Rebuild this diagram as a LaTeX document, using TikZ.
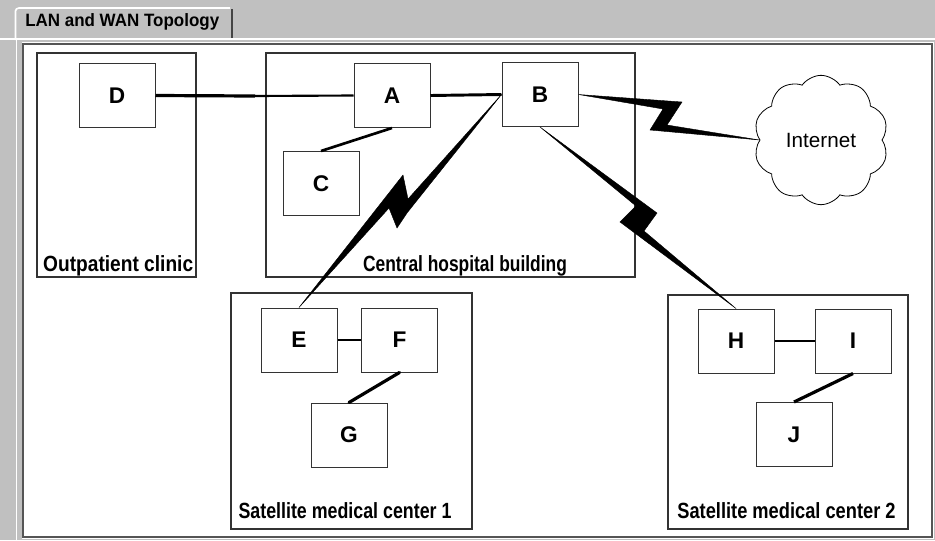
\documentclass[tikz,border=0pt]{standalone}
\usepackage{fontspec}
\setmainfont{Liberation Sans}
\usetikzlibrary{shapes.symbols}
\definecolor{bg}{HTML}{C0C0C0}
\definecolor{edge}{HTML}{333333}
\definecolor{frame}{HTML}{555555}
\begin{document}
\begin{tikzpicture}[x=0.75pt,y=-0.75pt,
  dev/.style={draw=edge, line width=0.75pt, fill=white, minimum width=57pt, minimum height=48pt, inner sep=0pt, font=\fontsize{17}{19}\selectfont\bfseries},
  grp/.style={draw=edge, line width=0.9pt, inner sep=0pt},
  grplabel/.style={anchor=base, inner sep=0pt, xscale=#1, font=\fontsize{16.5}{19}\selectfont\bfseries},
  wire/.style={draw=black, line width=#1},
  bolt/.style={fill=black, draw=black, line width=0.3pt, line join=miter}
]
\useasboundingbox (0,0) rectangle (935,540);
\fill[bg] (0,0) rectangle (935,540);
% tab
\draw[white, line width=1.5pt] (0,38.5) -- (935,38.5);
\draw[white, line width=1.2pt] (15.5,40) -- (15.5,11) to[out=90,in=180] (19,8) -- (230,8);
\draw[frame!80!black, line width=1.5pt] (231.5,9) -- (231.5,38);
\node[anchor=west, inner sep=0pt, xscale=0.95, font=\fontsize{13.4}{15}\selectfont\bfseries] (tab) at (25,22) {LAN and WAN Topology};
% panel
\draw[white, line width=1.2pt] (16.5,40) -- (16.5,540);
\fill[white] (22,42) rectangle (934,539);
\draw[frame, line width=1.5pt] (23,44) -- (932,44) -- (932,537) -- (23,537) -- cycle;

% groups
\node[grp, minimum width=119.25pt, minimum height=168pt] (clinic) at (116.5,165) {};
\node[grp, minimum width=276.75pt, minimum height=168pt] (central) at (450.5,165) {};
\node[grp, minimum width=180.75pt, minimum height=177pt] (sat1) at (351.5,411) {};
\node[grp, minimum width=180pt, minimum height=175.5pt] (sat2) at (788,412) {};
\node[grplabel=0.87, anchor=base west] (lclinic) at (43,271) {Outpatient clinic};
\node[grplabel=0.79] (lcentral) at (465,271) {Central hospital building};
\node[grplabel=0.81] (lsat1) at (345,518.5) {Satellite medical center 1};
\node[grplabel=0.83] (lsat2) at (786.5,518.5) {Satellite medical center 2};

% devices
\node[dev] (D) at (117,95.5) {D};
\node[dev] (A) at (392,95.5) {A};
\node[dev] (B) at (540,94.5) {B};
\node[dev] (C) at (321,183.5) {C};
\node[dev] (E) at (299,340) {E};
\node[dev] (F) at (399.5,340) {F};
\node[dev] (G) at (349,435) {G};
\node[dev] (H) at (736,341) {H};
\node[dev] (I) at (853,341) {I};
\node[dev] (J) at (794,434.5) {J};

% cloud
\node[cloud, draw=black, line width=0.6pt, fill=white, cloud puffs=10, cloud puff arc=110, aspect=1,
  minimum width=101pt, minimum height=97pt, inner sep=0pt, font=\fontsize{15.5}{18}\selectfont] (net) at (821,140) {Internet};

% wired connectors
\coordinate (da) at (255,96);
\draw[wire=2.4pt] (D.east) -- (da);
\draw[wire=1.6pt] (da) -- (A.west);
\draw[wire=2.2pt] (A.east) -- (B.west);
\draw[wire=2pt] (A.south) -- (C.north);
\draw[wire=0.9pt] (E.east) -- (F.west);
\draw[wire=2.4pt, line cap=round] (F.south) -- (G.north);
\draw[wire=1.2pt] (H.east) -- (I.west);
\draw[wire=2.4pt] (I.south) -- (J.north);

% wireless (lightning) connectors
\fill[bolt] (B.west) -- (407,213) -- (397,228) -- (389,208) -- (E.north) -- (403,175) -- (408,199) -- cycle;
\fill[bolt] (B.east) -- (682,102) -- (667,125) -- (net.west) -- (650,130) -- (663,109) -- cycle;
\fill[bolt] (B.south) -- (657,213) -- (644,231) -- (H.north) -- (620,222) -- (636,206) -- cycle;
\end{tikzpicture}
\end{document}
